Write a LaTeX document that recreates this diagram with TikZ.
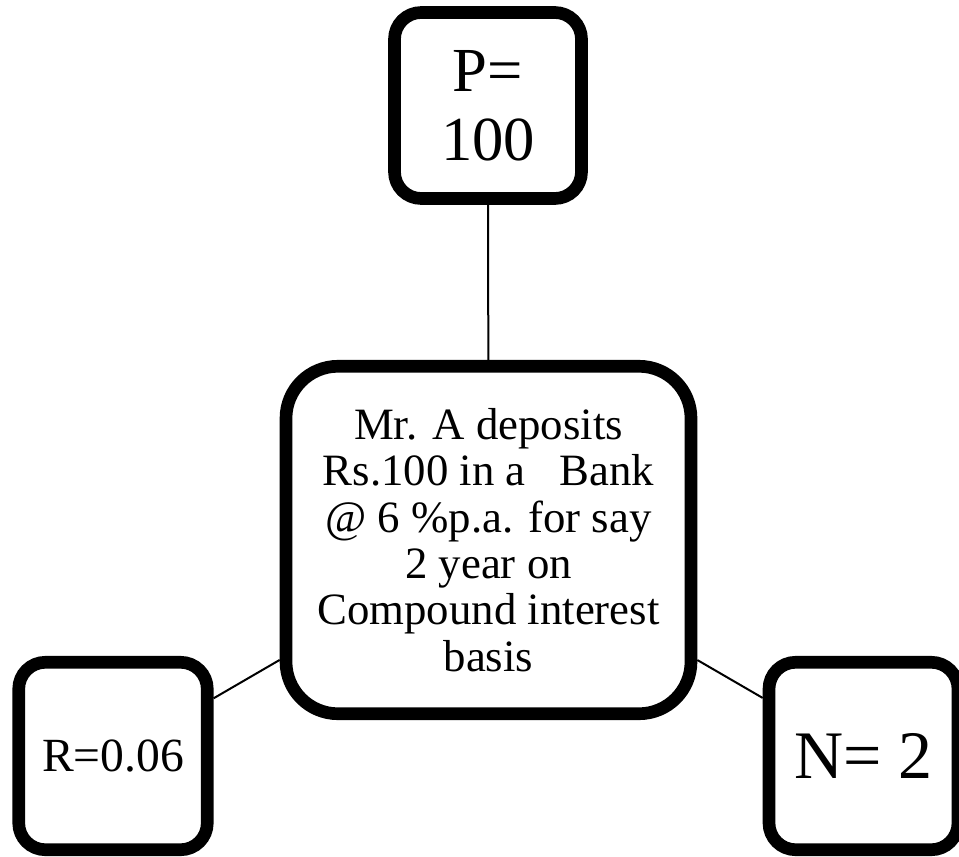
\documentclass[tikz,border=0pt]{standalone}
\usepackage{fontspec}
\setmainfont{Liberation Serif}
\begin{document}
\begin{tikzpicture}[x=0.75pt,y=-0.75pt,
  box/.style={draw=black, line width=9.5pt, fill=white, rounded corners=20pt,
    inner sep=0pt, align=center, text=black},
  conn/.style={draw=black, line width=1.5pt}]
\useasboundingbox (0,0) rectangle (959,856);
\clip (0,0) rectangle (959,856);
\node[box, minimum width=140.25pt, minimum height=139.5pt,
  font=\fontsize{47}{52}\selectfont] (p) at (488,105.5) {P=\\100};
\node[box, rounded corners=39pt, minimum width=303.75pt, minimum height=260.6pt,
  font=\fontsize{33.6}{34.8}\selectfont] (c) at (488.5,540)
  {Mr. A deposits\\Rs.100 in a\ \ \ Bank\\@ 6 \%p.a. for say\\2 year on\\Compound interest\\basis};
\node[box, minimum width=141.4pt, minimum height=140.6pt,
  font=\fontsize{35.7}{40}\selectfont] (r) at (113,756) {R=0.06};
\node[box, minimum width=141.75pt, minimum height=140.6pt,
  font=\fontsize{51}{56}\selectfont] (n) at (863.5,756) {N= 2};
\draw[conn] (p) -- (c);
\draw[conn] (c) -- (r);
\draw[conn] (c) -- (n);
\end{tikzpicture}
\end{document}
